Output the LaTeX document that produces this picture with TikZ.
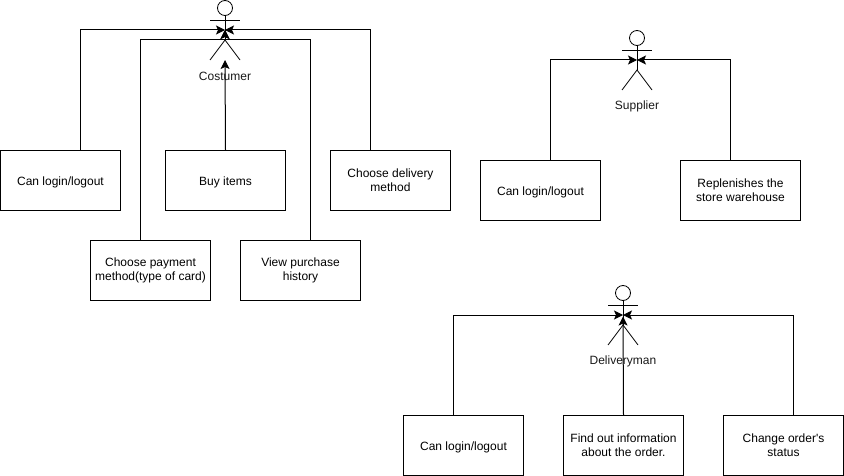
\documentclass[tikz,border=0pt]{standalone}
\usepackage{fontspec}
\setmainfont{Liberation Sans}
\usetikzlibrary{arrows.meta}
\tikzset{
  x=1pt,y=-1pt,
  box/.style={draw=black,line width=1pt,fill=white,minimum width=120pt,minimum height=60pt,inner sep=1pt,
    align=center,font=\fontsize{12}{14.4}\selectfont,anchor=north west,
    execute at begin node={\rule{0pt}{12pt}}},
  link/.style={draw=black,line width=1pt,-{Stealth[length=9pt,width=9pt,inset=2pt]}},
  figure/.style={draw=black,line width=0.8pt},
  who/.style={font=\fontsize{12}{14}\selectfont,inner sep=0pt,text=black!90},
}
\newcommand{\actor}[4]{%
  % #1 name, #2 x, #3 y of head top, #4 label
  \draw[figure] (#2,#3+8) circle[radius=7.5pt];
  \draw[figure] (#2,#3+16) -- (#2,#3+40);
  \draw[figure] (#2-15,#3+20) -- (#2+15,#3+20);
  \draw[figure] (#2-15,#3+60) -- (#2,#3+40) -- (#2+15,#3+60);
  \coordinate (#1) at (#2,#3+30);
  \coordinate (#1foot) at (#2,#3+60);
  \node[who] (#1label) at (#2,#3+76) {#4};
}
\begin{document}
\begin{tikzpicture}
\useasboundingbox (0,0) rectangle (844,476);
\fill[white] (0,0) rectangle (844,476);

% Costumer
\actor{cust}{225}{0}{Costumer}
\node[box] (c1) at (0,150) {Can login/logout};
\node[box] (c2) at (165,150) {Buy items};
\node[box] (c3) at (330,150) {Choose delivery\\method};
\node[box] (c4) at (90,240) {Choose payment\\method(type of card)};
\node[box] (c5) at (240,240) {View purchase\\history};
\draw[link] ([xshift=20pt]c1.north) |- (cust);
\draw[link] ([xshift=-20pt]c3.north) |- (cust);
\draw[link] (c2.north) -- (custfoot);
\coordinate (custjoin) at (225,40);
\draw[link] ([xshift=-10pt]c4.north) |- (custjoin) -- (cust);
\draw[link] ([xshift=10pt]c5.north) |- (custjoin) -- (cust);

% Supplier
\actor{supp}{637}{30}{Supplier}
\node[box] (s1) at (480,160) {Can login/logout};
\node[box] (s2) at (680,160) {Replenishes the\\store warehouse};
\draw[link] ([xshift=10pt]s1.north) |- (supp);
\draw[link] ([xshift=-10pt]s2.north) |- (supp);

% Deliveryman
\actor{del}{623}{285}{Deliveryman}
\node[box] (d1) at (403,415) {Can login/logout};
\node[box] (d2) at (563,415) {Find out information\\about the order.};
\node[box] (d3) at (723,415) {Change order\textquotesingle s\\status};
\draw[link] ([xshift=-10pt]d1.north) |- (del);
\draw[link] ([xshift=10pt]d3.north) |- (del);
\draw[link] (d2.north) -- ([yshift=-1.5pt]del);
\end{tikzpicture}
\end{document}
